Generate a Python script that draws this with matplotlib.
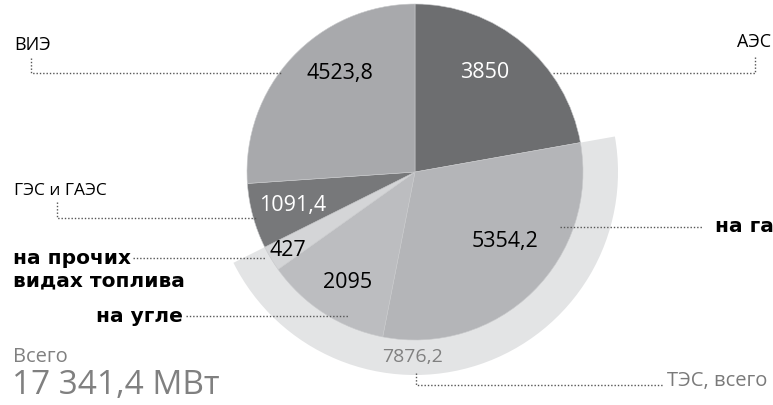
import numpy as np
import matplotlib
matplotlib.use("Agg")
import matplotlib.pyplot as plt
from matplotlib.patches import Wedge

# capacity by plant type, MW (clockwise from 12 o'clock)
names = ["АЭС", "на газе", "на угле", "на прочих видах топлива", "ГЭС и ГАЭС", "ВИЭ"]
values = [3850, 5354.2, 2095, 427, 1091.4, 4523.8]
value_labels = ["3850", "5354,2", "2095", "427", "1091,4", "4523,8"]
colors = ["#6d6e70", "#b4b5b8", "#bcbdc0", "#d4d5d7", "#77787a", "#a8a9ac"]
tes_idx = [1, 2, 3]
tes_label = "7876,2"
total_label = "17 341,4 МВт"

W, H = 773, 405
fig = plt.figure(figsize=(W / 100, H / 100), dpi=100)
ax = fig.add_axes([0, 0, 1, 1])


def Y(y):
    # pixel row (from top) -> data y
    return H - y


cx, cy, r = 415, Y(172), 168

# outer ring for ТЭС total
total = sum(values)
start = 90 - 360 * sum(values[:tes_idx[0]]) / total
end = 90 - 360 * sum(values[:tes_idx[-1] + 1]) / total
ax.add_patch(Wedge((cx, cy), 203, end, start, width=36, color="#e3e4e5", lw=0, zorder=1))

wedges, _ = ax.pie(values, colors=colors, startangle=90, counterclock=False,
                   center=(cx, cy), radius=r, wedgeprops=dict(linewidth=0.4, edgecolor="#c8c9cb"))
for w in wedges:
    w.set_zorder(2)

ax.set_xlim(0, W)
ax.set_ylim(0, H)
ax.set_aspect("auto")
ax.axis("off")

reg = ["Open Sans", "DejaVu Sans"]
bold = ["DejaVu Sans"]
dot = dict(color="#555555", lw=1.0, linestyle=(0, (1, 1.4)), zorder=5)

# values inside the slices
pos = [(485, 73), (505, 242), (348, 283), (288, 250), (293, 205), (340, 73)]
txtc = ["white", "black", "black", "black", "white", "black"]
for (x, y), lab, c in zip(pos, value_labels, txtc):
    ax.text(x, Y(y), lab, ha="center", va="center", fontsize=15.5, color=c,
            family=reg, zorder=6)

# ВИЭ
ax.text(14, Y(45), names[5], fontsize=13, family=reg, va="center", ha="left")
ax.plot([31, 31, 282], [Y(58), Y(73), Y(73)], **dot)
# АЭС
ax.text(771, Y(42), names[0], fontsize=13, family=reg, va="center", ha="right")
ax.plot([755, 755, 553], [Y(57), Y(73), Y(73)], **dot)
# ГЭС и ГАЭС
ax.text(14, Y(191), names[4], fontsize=12.5, family=reg, va="center", ha="left")
ax.plot([57, 57, 257], [Y(202), Y(218), Y(218)], **dot)
# на прочих видах топлива
ax.text(13, Y(258), "на прочих", fontsize=14.5, family=bold, weight="bold", va="center", ha="left")
ax.text(13, Y(281), "видах топлива", fontsize=14.5, family=bold, weight="bold", va="center", ha="left")
ax.plot([133, 265], [Y(258), Y(258)], **dot)
# на угле
ax.text(183, Y(316), names[2], fontsize=14.5, family=bold, weight="bold", va="center", ha="right")
ax.plot([186, 348], [Y(316), Y(316)], **dot)
# на газе (cut by the right edge, as in the source)
ax.text(715, Y(226), names[1], fontsize=14.5, family=bold, weight="bold", va="center", ha="left")
ax.plot([560, 703], [Y(227), Y(227)], **dot)

# ТЭС total
ax.text(413, Y(357), tes_label, fontsize=14, family=reg, color="#808080", va="center", ha="center", zorder=6)
ax.plot([416, 416, 664], [Y(373), Y(385), Y(385)], **dot)
ax.text(667, Y(381), "ТЭС, всего", fontsize=14.5, family=reg, color="#7a7a7a", va="center", ha="left")

# total capacity
ax.text(13, Y(357), "Всего", fontsize=14.5, family=reg, color="#808080", va="center", ha="left")
ax.text(12, Y(386), total_label, fontsize=24, family=reg, color="#808080", va="center", ha="left")

fig.savefig("out.png", dpi=100)
